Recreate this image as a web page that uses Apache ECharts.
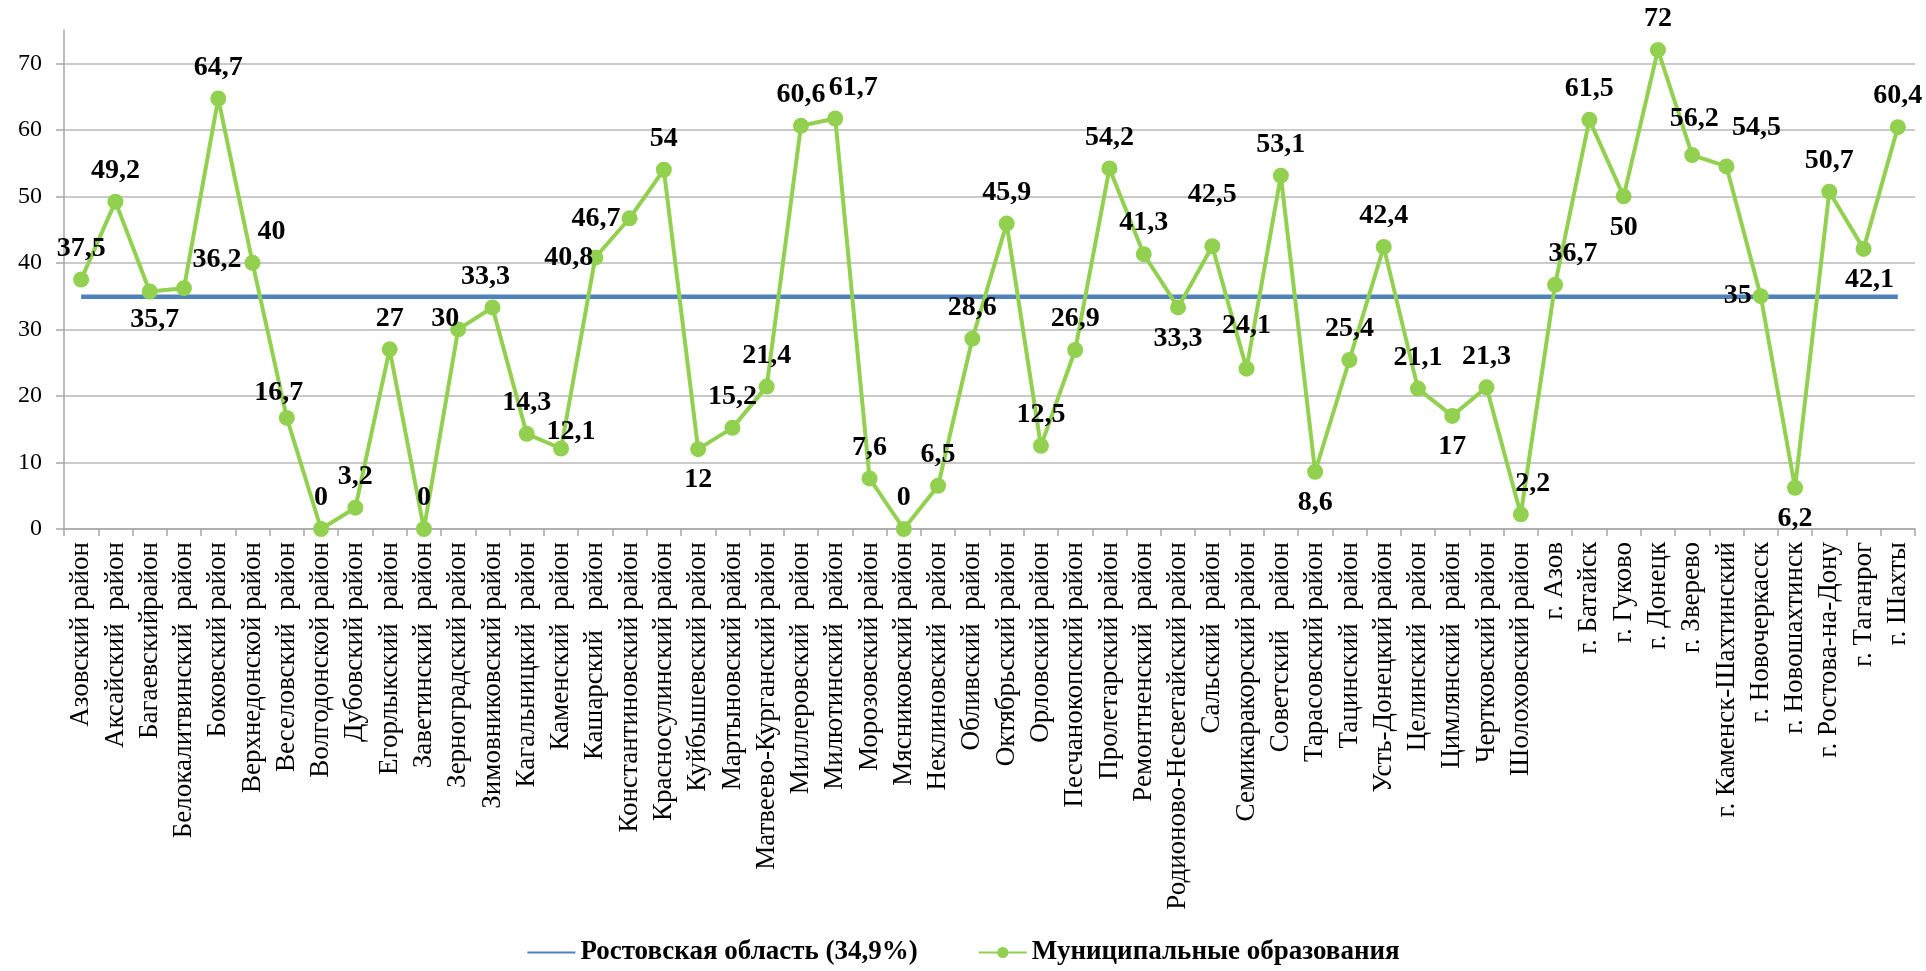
<!DOCTYPE html>
<html>
<head>
<meta charset="utf-8">
<script src="https://cdn.jsdelivr.net/npm/echarts@6/dist/echarts.min.js"></script>
<style>
html,body{margin:0;padding:0;background:#fff;}
#chart{width:1926px;height:971px;}
</style>
</head>
<body>
<div id="chart"></div>
<script>
const categories = [
  'Азовский район','Аксайский  район','Багаевскийрайон','Белокалитвинский  район','Боковский район',
  'Верхнедонской район','Веселовский  район','Волгодонской район','Дубовский район','Егорлыкский  район',
  'Заветинский  район','Зерноградский район','Зимовниковский район','Кагальницкий  район','Каменский  район',
  'Кашарский   район','Константиновский район','Красносулинский район','Куйбышевский район','Мартыновский район',
  'Матвеево-Курганский район','Миллеровский  район','Милютинский  район','Морозовский район','Мясниковский район',
  'Неклиновский  район','Обливский  район','Октябрьский район','Орловский район','Песчанокопский район',
  'Пролетарский район','Ремонтненский  район','Родионово-Несветайский район','Сальский  район','Семикаракорский район',
  'Советский   район','Тарасовский район','Тацинский  район','Усть-Донецкий район','Целинский  район',
  'Цимлянский  район','Чертковский район','Шолоховский район','г. Азов','г. Батайск',
  'г. Гуково','г. Донецк','г. Зверево','г. Каменск-Шахтинский','г. Новочеркасск',
  'г. Новошахтинск','г. Ростова-на-Дону','г. Таганрог','г. Шахты'
];
const municipalValues = [
  37.5, 49.2, 35.7, 36.2, 64.7, 40, 16.7, 0, 3.2, 27,
  0, 30, 33.3, 14.3, 12.1, 40.8, 46.7, 54, 12, 15.2,
  21.4, 60.6, 61.7, 7.6, 0, 6.5, 28.6, 45.9, 12.5, 26.9,
  54.2, 41.3, 33.3, 42.5, 24.1, 53.1, 8.6, 25.4, 42.4, 21.1,
  17, 21.3, 2.2, 36.7, 61.5, 50, 72, 56.2, 54.5, 35,
  6.2, 50.7, 42.1, 60.4
];
const regionValue = 34.9;
const yTicks = [0, 10, 20, 30, 40, 50, 60, 70];
const seriesNames = ['Ростовская область (34,9%)', 'Муниципальные образования'];

// data-label placement per point index (style only): side + pixel shift
const labelPlacement = {
  2:  ['bottom', 5, -3],
  3:  ['top', 33, 3],
  5:  ['top', 19, 0],
  6:  ['top', -8, 6],
  11: ['top', -13, 20],
  12: ['top', -7, 0],
  14: ['top', 10, 14],
  15: ['left', 15, 0],
  16: ['left', 8, 0],
  18: ['bottom', 0, 0],
  22: ['top', 18, 0],
  32: ['bottom', 0, 0],
  33: ['top', 0, -20],
  34: ['top', 0, -12],
  36: ['bottom', 0, 0],
  40: ['bottom', 0, 0],
  42: ['top', 12, 0],
  43: ['top', 18, 0],
  45: ['bottom', 0, 0],
  47: ['top', 2, -5],
  48: ['top', 30, -8],
  49: ['left', 8, 0],
  50: ['bottom', 0, 0],
  52: ['bottom', 6, 0]
};

const FONT = '"Liberation Serif", "Times New Roman", serif';
const SYM = 16, DIST = 9;
const chart = echarts.init(document.getElementById('chart'), null, {renderer: 'canvas'});

function labelFor(side, dx, dy) {
  const c = SYM / 2;
  if (side === 'bottom') return {position: [c + dx, SYM + DIST + dy], align: 'center', verticalAlign: 'top'};
  if (side === 'left') return {position: [-DIST + dx, c + dy], align: 'right', verticalAlign: 'middle'};
  if (side === 'right') return {position: [SYM + DIST + dx, c + dy], align: 'left', verticalAlign: 'middle'};
  return {position: [c + dx, -DIST + dy], align: 'center', verticalAlign: 'bottom'};
}

const munData = municipalValues.map((v, i) => {
  const p = labelPlacement[i] || ['top', 0, 0];
  return {value: v, label: labelFor(p[0], p[1], p[2])};
});

chart.setOption({
  backgroundColor: '#ffffff',
  animation: false,
  grid: {left: 64, right: 11, top: 30, bottom: 442, containLabel: false},
  legend: {
    bottom: 0,
    left: 'center',
    itemWidth: 48,
    itemHeight: 14,
    itemGap: 60,
    textStyle: {fontFamily: FONT, fontWeight: 'bold', fontSize: 27, color: '#000'},
    data: [
      {name: seriesNames[0], itemStyle: {color: 'rgba(0,0,0,0)', borderColor: 'rgba(0,0,0,0)', borderWidth: 0}},
      {name: seriesNames[1]}
    ]
  },
  xAxis: {
    type: 'category',
    data: categories,
    boundaryGap: true,
    axisLine: {lineStyle: {color: '#a6a6a6', width: 1.5}},
    axisTick: {show: true, interval: 0, length: 7, lineStyle: {color: '#a6a6a6', width: 1.5}},
    axisLabel: {interval: 0, rotate: 90, margin: 13, fontFamily: FONT, fontSize: 27, color: '#000'}
  },
  yAxis: {
    type: 'value',
    min: 0, max: 75, interval: 10,
    axisLine: {show: true, lineStyle: {color: '#a6a6a6', width: 1.5}},
    axisTick: {show: true, length: 8, lineStyle: {color: '#a6a6a6', width: 1.5}},
    axisLabel: {showMaxLabel: false, margin: 22, fontFamily: FONT, fontSize: 24, color: '#000',
      formatter: v => yTicks.indexOf(v) >= 0 ? String(v) : ''},
    splitLine: {show: true, lineStyle: {color: ['#b8b8b8','#b8b8b8','#b8b8b8','#b8b8b8','#b8b8b8','#b8b8b8','#b8b8b8','#b8b8b8','rgba(0,0,0,0)'], width: 1.5}}
  },
  series: [
    {
      name: seriesNames[0],
      type: 'line',
      data: [[categories[0], regionValue], [categories[categories.length - 1], regionValue]],
      symbol: 'none',
      lineStyle: {color: '#4F81BD', width: 4.5},
      itemStyle: {color: '#4F81BD'},
      z: 2
    },
    {
      name: seriesNames[1],
      type: 'line',
      data: munData,
      symbol: 'circle',
      symbolSize: SYM,
      lineStyle: {color: '#92D050', width: 4},
      itemStyle: {color: '#92D050'},
      label: {
        show: true,
        fontFamily: FONT, fontWeight: 'bold', fontSize: 28, color: '#000',
        formatter: p => String(p.value).replace('.', ',')
      },
      labelLayout: {hideOverlap: false},
      z: 3
    }
  ]
});
</script>
</body>
</html>
